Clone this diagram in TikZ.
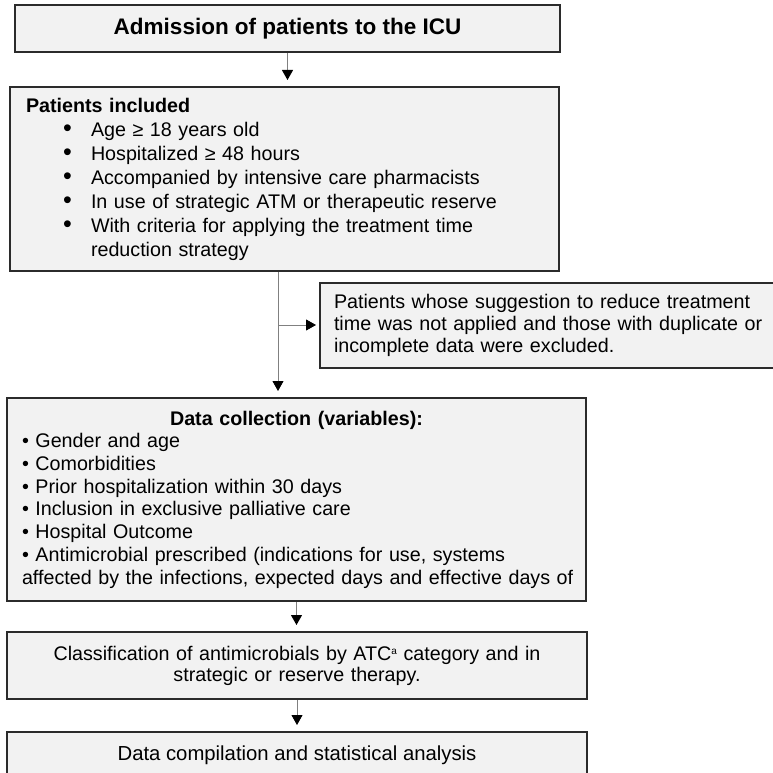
\documentclass[tikz,border=0pt]{standalone}
\usepackage{fontspec}
\setmainfont{Liberation Sans}
\usetikzlibrary{arrows.meta}
\definecolor{boxfill}{HTML}{F2F2F2}
\definecolor{boxline}{HTML}{2B2B2B}
\newcommand{\bigbullet}{{\fontsize{25}{24}\selectfont\textbullet}}
\newcommand{\smallsup}[1]{\raisebox{6pt}{\fontsize{10}{10}\selectfont #1}}

\begin{document}
\begin{tikzpicture}[x=1pt, y=-1pt,
    box/.style={draw=boxline, line width=2pt, fill=boxfill, inner ysep=0pt, font=\fontsize{19.7}{24}\selectfont},
    arrow/.style={draw=gray, line width=0.9pt, -{Triangle[width=11pt,length=10pt,color=black]}, shorten >=6pt}
  ]
  \useasboundingbox (0,0) rectangle (772,773);

  % Admission
  \node[box, minimum width=545pt, minimum height=47pt, font=\fontsize{22.5}{24}\selectfont] (admit) at (287.5,28.5)
    {\textbf{Admission of patients to the ICU}};

  % Inclusion criteria
  \node[box, inner xsep=16pt, text width=517pt, minimum height=184pt, align=left] (incl) at (284.5,179)
    {\textbf{Patients included}\\
     \hspace*{37pt}\makebox[28pt][l]{\bigbullet}Age ≥ 18 years old\\
     \hspace*{37pt}\makebox[28pt][l]{\bigbullet}Hospitalized ≥ 48 hours\\
     \hspace*{37pt}\makebox[28pt][l]{\bigbullet}Accompanied by intensive care pharmacists\\
     \hspace*{37pt}\makebox[28pt][l]{\bigbullet}In use of strategic ATM or therapeutic reserve\\
     \hspace*{37pt}\makebox[28pt][l]{\bigbullet}\mbox{With criteria for applying the treatment time}\\
     \hspace*{65pt}reduction strategy};

  % Exclusion
  \node[box, inner xsep=14pt, text width=440pt, minimum height=85pt, align=left,
    font=\fontsize{19.7}{22}\selectfont] (excl) at (554,325.5)
    {Patients whose suggestion to reduce treatment\\
     time was not applied and those with duplicate or\\
     incomplete data were excluded.};

  % Data collection
  \node[box, inner xsep=15pt, text width=549pt, minimum height=203pt, align=left,
    font=\fontsize{19.7}{22.7}\selectfont] (collect) at (296.5,499.5)
    {\makebox[549pt][c]{\textbf{Data collection (variables):}}\\
     \textbullet{} Gender and age\\
     \textbullet{} Comorbidities\\
     \textbullet{} Prior hospitalization within 30 days\\
     \textbullet{} Inclusion in exclusive palliative care\\
     \textbullet{} Hospital Outcome\\
     \mbox{\textbullet{} Antimicrobial prescribed (indications for use, systems}\\
     \mbox{affected by the infections, expected days and effective days of}};

  % Classification
  \node[box, inner xsep=10pt, text width=560pt, minimum height=67pt, align=center,
    font=\fontsize{19.7}{21}\selectfont] (classif) at (297,665.5)
    {Classification of antimicrobials by ATC\smallsup{a} category and in\\
     strategic or reserve therapy.};

  % Analysis
  \node[box, minimum width=580pt, minimum height=46pt, font=\fontsize{20.3}{24}\selectfont] (compile) at (297,755)
    {Data compilation and statistical analysis};

  % Arrows
  \coordinate (split) at (278,325);
  \draw[arrow] (admit.south) -- (admit.south |- incl.north);
  \draw[arrow] (split |- incl.south) -- (split |- collect.north);
  \draw[arrow, shorten >=3pt] (split) -- (split -| excl.west);
  \draw[arrow] (collect.south) -- (collect.south |- classif.north);
  \draw[arrow] (classif.south) -- (classif.south |- compile.north);
\end{tikzpicture}
\end{document}
